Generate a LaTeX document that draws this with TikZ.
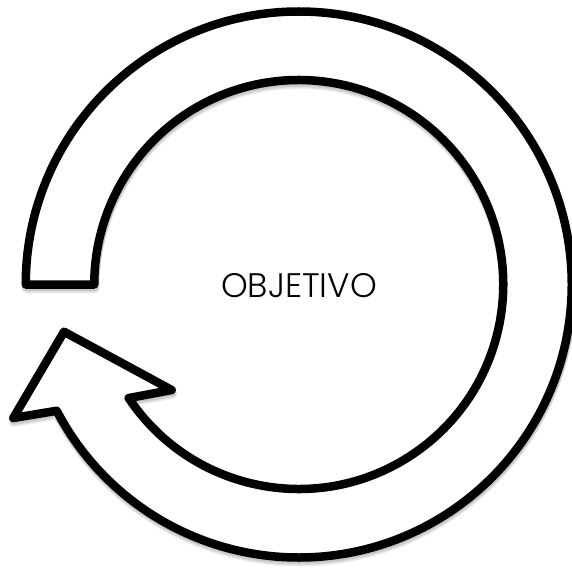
\documentclass[tikz,border=0pt]{standalone}
\usepackage{fontspec}
\newfontfamily\popfont{Poppins}[UprightFont={* Light}]
\newcommand\myringpath{([shift={(c)}]180:273) arc[start angle=180,end angle=512.45,radius=273]
  -- (13.3,418) -- (64,331.7) -- (171.7,390)
  -- ([shift={(c)}]146.27:204.5) arc[start angle=146.27,end angle=-180,radius=204.5]
  -- cycle}
\begin{document}
\begin{tikzpicture}[x=1pt,y=-1pt,
  ring/.style={draw=black,fill=white,line width=8.5pt,line join=round},
  ringshadow/.style={draw=black,fill=black,line width=9pt,line join=round,opacity=0.06},
  label/.style={font=\popfont\fontsize{34}{38}\selectfont}]
\useasboundingbox (0,0) rectangle (572,567);
\coordinate (c) at (298.75,284.5);
\foreach \s in {1.5,2.5,3.5,4.5}{
  \draw[ringshadow,shift={(0.5,\s)}] \myringpath;
}
\draw[ring] \myringpath;
\node[label] (obj) at (299,285.5) {OBJETIVO};
\end{tikzpicture}
\end{document}
